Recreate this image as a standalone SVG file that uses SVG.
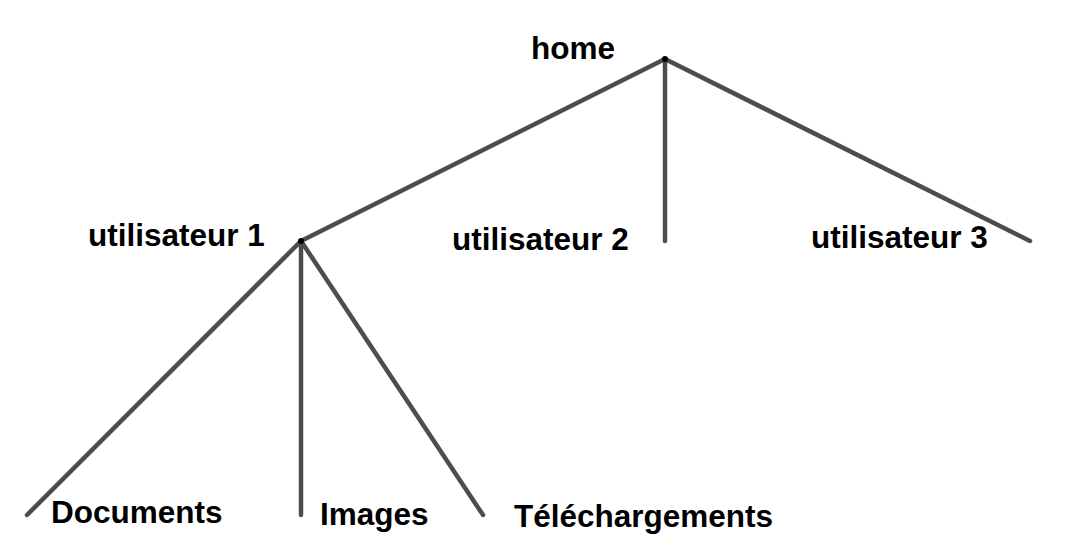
<svg xmlns="http://www.w3.org/2000/svg" width="1072" height="552" viewBox="0 0 1072 552">
<style>
.edge{stroke:#4d4d4d;stroke-width:4.5;stroke-linecap:round;fill:none}
.lbl{font-family:"Liberation Sans",Arial,sans-serif;font-weight:bold;font-size:31.5px;fill:#000}
.dot{fill:#000}
</style>
<rect width="1072" height="552" fill="#fff"/>
<g id="connectors">
<line class="edge" x1="665" y1="59" x2="301" y2="241"/>
<line class="edge" x1="665" y1="59" x2="665" y2="241"/>
<line class="edge" x1="665" y1="59" x2="1030" y2="241"/>
<line class="edge" x1="301" y1="241" x2="27" y2="515"/>
<line class="edge" x1="301" y1="241" x2="301" y2="515"/>
<line class="edge" x1="301" y1="241" x2="483" y2="515"/>
</g>
<g id="home"><circle class="dot" cx="665" cy="59" r="3"/><text class="lbl" x="531" y="59">home</text></g>
<g id="utilisateur1"><circle class="dot" cx="301" cy="241" r="3"/><text class="lbl" x="88" y="246">utilisateur 1</text></g>
<g id="utilisateur2"><text class="lbl" x="452" y="250">utilisateur 2</text></g>
<g id="utilisateur3"><text class="lbl" x="811" y="248">utilisateur 3</text></g>
<g id="documents"><text class="lbl" x="51" y="523">Documents</text></g>
<g id="images"><text class="lbl" x="320" y="525">Images</text></g>
<g id="telechargements"><text class="lbl" x="514" y="527">Téléchargements</text></g>
</svg>
